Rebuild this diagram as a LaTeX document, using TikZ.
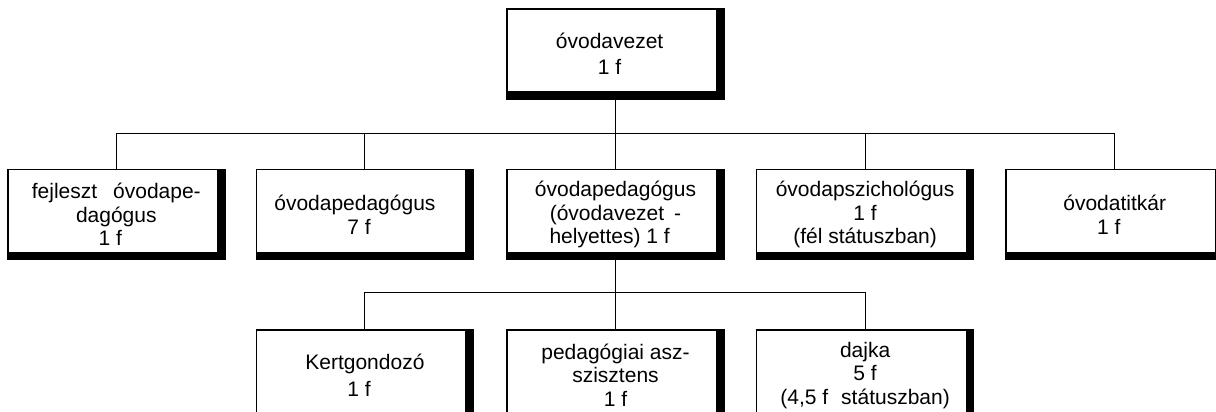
\documentclass[tikz,border=0pt]{standalone}
\usepackage{fontspec}
\setmainfont{Liberation Sans}
\usetikzlibrary{positioning}

\begin{document}
\begin{tikzpicture}[x=1pt, y=1pt, node distance=31pt,
    every node/.style={font=\fontsize{21pt}{23.5pt}\selectfont},
    unit/.style={draw, line width=1.6pt, rectangle, minimum width=217pt, minimum height=90pt, inner sep=0pt, align=center,
      path picture={
        \fill ([xshift=-8pt]path picture bounding box.north east) rectangle (path picture bounding box.south east);
        \fill (path picture bounding box.south west) rectangle ([yshift=8pt]path picture bounding box.south east);
      }},
    link/.style={line width=1pt}]
    \useasboundingbox (0,0) rectangle (1216,-412);
    % Nodes
    \node (vez) [unit] at (615.5,-54) {óvodavezet\hspace*{0.56em}\\[3pt]1 f\hspace*{0.56em}};
    \node (helyettes) [unit, below=69pt of vez] {óvodapedagógus\\(óvodavezet\hspace*{10pt}-\\helyettes) 1 f\hspace*{0.56em}};
    \node (pedagogus) [unit, left=32pt of helyettes] {óvodapedagógus\hspace*{20pt}\\7 f\hspace*{0.56em}};
    \node (fejleszto) [unit, left=30pt of pedagogus] {fejleszt\hspace*{16pt}óvodape-\\dagógus\\1 f\hspace*{0.56em}};
    \node (pszich) [unit, right=31pt of helyettes] {óvodapszichológus\\1 f\hspace*{0.56em}\\(fél státuszban)};
    \node (titkar) [unit, right=31pt of pszich] {óvodatitkár\\1 f\hspace*{0.56em}};
    \node (asszisztens) [unit, below=69pt of helyettes] {pedagógiai asz-\\szisztens\\1 f};
    \node (kert) [unit, left=32pt of asszisztens] {Kertgondozó\\[3pt]1 f\hspace*{0.56em}};
    \node (dajka) [unit, right=31pt of asszisztens] {dajka\\5 f\hspace*{0.56em}\\(4,5 f\hspace*{13pt}státuszban)};
    % Lines
    \foreach \n in {fejleszto, pedagogus, helyettes, pszich, titkar}
      \draw[link] (vez.south) -- ++(0,-34) -| (\n.north);
    \foreach \n in {kert, asszisztens, dajka}
      \draw[link] (helyettes.south) -- ++(0,-32) -| (\n.north);
  \end{tikzpicture}
\end{document}
